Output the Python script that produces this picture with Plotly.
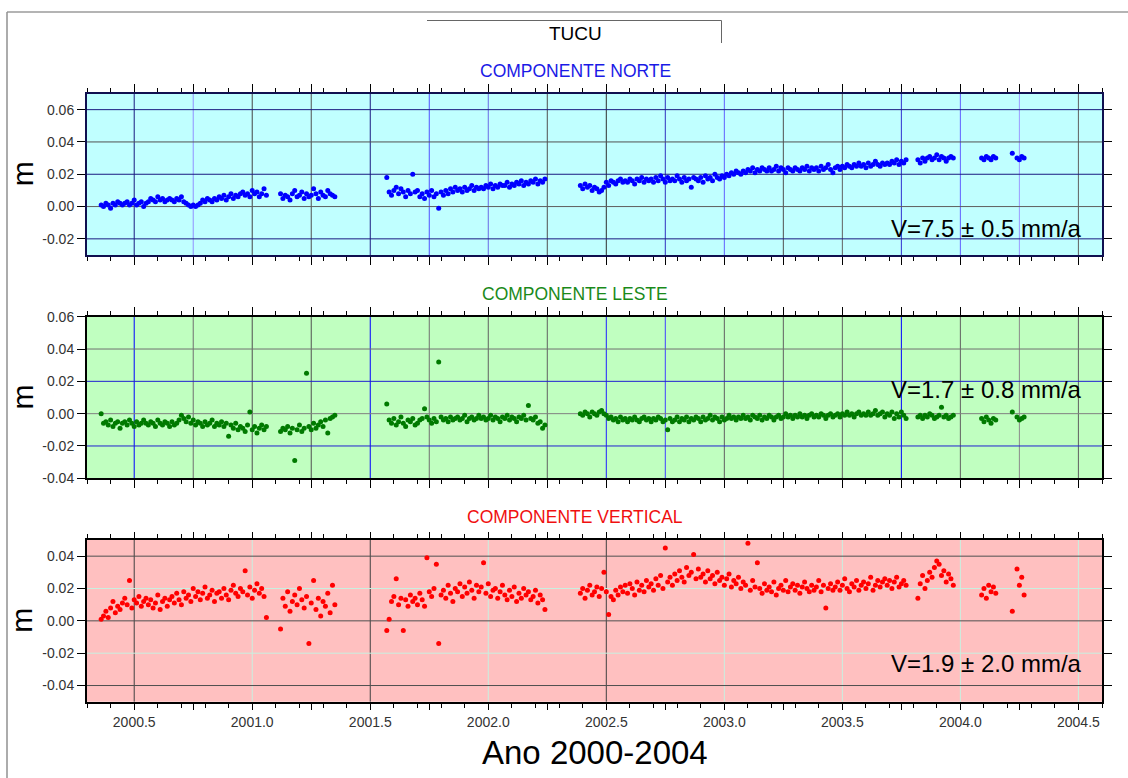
import numpy as np
import plotly.graph_objects as go

# --- GPS time series for station TUCU (values in mm, None = no solution) ---

seg_start = [2000.36, 2001.12, 2001.57, 2002.39, 2003.82, 2004.09]

north_mm = [
    [1, 0, 2, 1, -1, 2, 1, 3, 2, 1,
     2, 3, 1, 2, 4, 1, 2, 3, 0, 2,
     3, 5, 4, 3, 6, 4, 5, 3, 4, 5,
     4, 3, 5, 4, 6, 3, 2, 1, 0, 1,
     0, 1, 2, 4, 3, 5, 4, 3, 5, 4,
     6, 5, 7, 4, 6, 8, 5, 7, 6, 8,
     9, 7, 8, 6, 10, 8, 9, 6, 8, 11,
     7],
    [8, 5, 7, 6, 4, 8, 10, 6, 7, 9, 5, 8, 6, 7, 11, 8, 5, 9, 7, 6, 10, 8, 7, 6],
    [18, 9, 7, 10, 12, 8, 11, 9, 6, 10,
     8, 20, 9, 10, 6, 8, 5, 9, 7, 10,
     6, 8, -1, 9, 7, 10, 8, 11, 9, 12,
     10, 11, 9, 12, 10, 11, 13, 10, 12, 11,
     12, 11, 13, 12, 14, 11, 13, 12, 14, 13,
     13, 15, 12, 14, 13, 15, 14, 16, 13, 15,
     14, 16, 15, 17, 14, 16, 15, 17],
    [13, 11, 14, 12, 13, 10, 12, 11, 9, 10,
     12, 15, 13, 16, 15, 14, 16, 17, 15, 16,
     15, 17, 16, 14, 17, 16, 18, 15, 17, 16,
     17, 15, 18, 16, 19, 17, 15, 18, 16, 17,
     16, 19, 17, 15, 18, 16, 17, 12, 18, 17,
     16, 18, 15, 19, 17, 18, 16, 20, 18, 17,
     19, 18, 20, 19, 21, 20, 22, 21, 20, 22,
     21, 23, 22, 24, 21, 23, 22, 24, 23, 22,
     24, 22, 23, 25, 22, 24, 23, 21, 24, 23,
     22, 24, 23, 22, 24, 23, 25, 22, 24, 23,
     24, 22, 25, 23, 24, 26, 23, 21, 24, 25,
     23, 25, 24, 26, 25, 24, 26, 25, 27, 25,
     26, 24, 27, 25, 26, 28, 26, 25, 27, 26,
     27, 26, 28, 27, 29, 26, 28, 27, 29],
    [29, 27, 30, 28, 30, 31, 29, 30, 32, 29, 31, 30, 28, 30, 31, 30],
    [30, 29, 31, 30, 29, 31, 30, None, None, None, None, None, None, 33, None, 30, 29, 31, 30],
]

east_mm = [
    [0, -6, -5, -7, -4, -8, -6, -5, -9, -6,
     -5, -7, -4, -6, -8, -5, -7, -6, -4, -6,
     -7, -5, -6, -8, -4, -6, -7, -5, -6, -8,
     -5, -7, -6, -4, -1, -3, -5, -2, -6, -4,
     -7, -5, -6, -8, -5, -7, -6, -4, -8, -6,
     -7, -5, -8, -6, -14, -7, -9, -6, -10, -8,
     -9, -11, -7, 1, -10, -8, -12, -9, -7, -10,
     -8],
    [-11, -9, -10, -8, -12, -9, -29, -10, -7, -11, -9, 25, -8, -10, -6, -9, -7, -5, -8, -4, -12, -3, -2, -1],
    [6, -4, -6, -3, -7, -5, -2, -6, -8, -4,
     -5, -3, -7, -6, -4, -3, 3, -2, -4, -6,
     -3, -5, 32, -2, -4, -3, -5, -2, -4, -3,
     -2, -4, -3, -1, -5, -3, -2, -4, -3, -1,
     -3, -2, -4, -3, -1, -4, -2, -3, -5, -2,
     -3, -1, -4, -2, -3, -5, -2, -3, -1, -4,
     5, -3, -4, -2, -6, -5, -9, -7],
    [0, -1, 1, 0, -2, 1, 0, -1, 1, 2,
     0, -1, -3, -2, -4, -3, -5, -2, -4, -3,
     -5, -3, -4, -2, -4, -5, -3, -2, -4, -3,
     -5, -3, -4, -2, -3, -5, -4, -10, -3, -5,
     -4, -2, -5, -3, -4, -2, -5, -3, -4, -2,
     -3, -5, -2, -4, -3, -1, -4, -2, -3, -5,
     -2, -4, -3, -1, -3, -2, -4, -2, -3, -1,
     -3, -2, -4, -1, -2, -3, -1, -4, -2, -3,
     -1, -2, -4, -2, -1, -3, -2, 0, -2, -1,
     -3, -1, -2, 0, -2, -1, -3, -1, 0, -2,
     -1, -2, 0, -1, -3, -1, 0, -2, -1, 0,
     -2, 0, -1, 1, -1, 0, -2, 0, 1, -1,
     0, -1, 1, -1, 0, 2, -1, 0, 1, -2,
     0, -1, 1, -3, 0, -2, 1, -1, -3],
    [-2, -1, -3, -1, -2, 0, -1, -3, -2, -1, 4, -2, -1, -3, -2, -1],
    [-3, -5, -2, -4, -6, -3, -4, None, None, None, None, None, None, 1, None, -2, -4, -3, -2],
]

up_mm = [
    [1, 3, 6, 2, 8, 12, 5, 9, 7, 11,
     14, 10, 25, 8, 13, 11, 15, 9, 12, 14,
     10, 13, 8, 11, 16, 7, 12, 14, 9, 13,
     15, 11, 17, 13, 10, 18, 14, 16, 12, 20,
     15, 18, 13, 17, 21, 14, 16, 19, 12, 17,
     18, 14, 20, 16, 13, 19, 22, 17, 15, 20,
     18, 31, 16, 21, 14, 19, 23, 17, 20, 15,
     2],
    [-5, 14, 9, 18, 6, 12, 16, 10, 20, 13, 8, 15, -14, 11, 25, 7, 14, 3, 12, 9, 17, 5, 22, 10],
    [-6, 1, 12, 15, 26, 10, 14, -6, 13, 9,
     16, 12, 14, 10, 17, 13, 9, 39, 18, 15,
     20, 35, -14, 16, 19, 14, 22, 17, 12, 20,
     18, 23, 15, 21, 17, 24, 19, 14, 22, 18,
     21, 36, 17, 23, 15, 19, 20, 14, 18, 22,
     16, 13, 19, 15, 21, 12, 17, 14, 20, 16,
     18, 13, 15, 19, 11, 16, 13, 7],
    [17, 20, 14, 19, 22, 16, 18, 21, 15, 20,
     30, 18, 4, 15, 13, 19, 16, 21, 18, 22,
     17, 23, 20, 16, 24, 19, 22, 18, 25, 21,
     23, 19, 26, 22, 28, 20, 45, 24, 27, 22,
     29, 25, 31, 27, 24, 33, 28, 30, 41, 26,
     32, 27, 29, 24, 31, 26, 28, 23, 30, 25,
     27, 22, 26, 29, 21, 25, 23, 27, 20, 24,
     22, 48, 19, 25, 21, 36, 20, 17, 23, 19,
     21, 18, 24, 16, 20, 22, 19, 25, 18, 21,
     23, 19, 22, 17, 21, 24, 20, 18, 22, 19,
     21, 25, 18, 22, 8, 20, 23, 19, 21, 24,
     19, 22, 26, 20, 18, 23, 21, 25, 19, 22,
     24, 20, 23, 27, 19, 22, 25, 21, 24, 26,
     22, 25, 20, 24, 27, 21, 23, 25, 22],
    [14, 23, 28, 20, 25, 30, 27, 33, 37, 35, 28, 31, 24, 29, 26, 22],
    [16, 20, 14, 22, 18, 21, 17, None, None, None, None, None, None, 6, None, 32, 22, 27, 16],
]

north_yticks = [-0.02, 0.0, 0.02, 0.04, 0.06]
east_yticks = [-0.04, -0.02, 0.0, 0.02, 0.04, 0.06]
up_yticks = [-0.04, -0.02, 0.0, 0.02, 0.04]
x_grid = [2000.5 + 0.25 * i for i in range(17)]
x_labels = [2000.5, 2001.0, 2001.5, 2002.0, 2002.5, 2003.0, 2003.5, 2004.0, 2004.5]

W, H = 1128, 778
FONT = "Liberation Sans, Arial, Helvetica, sans-serif"


def px(x):
    return x / W


def py(y):
    return 1 - y / H


def to_series(values_by_seg):
    t, v = [], []
    for start, vals in zip(seg_start, values_by_seg):
        for i, val in enumerate(vals):
            t.append(round(start + 0.01 * i, 3))
            v.append(None if val is None else val / 1000.0)
    return t, v


def label(text, x, y, size, color="#000", **kw):
    return dict(text=text, x=px(x), y=py(y), xref="paper", yref="paper", showarrow=False,
                xanchor=kw.pop("xanchor", "center"), yanchor="middle",
                font=dict(family=FONT, size=size, color=color), **kw)


panels = [
    dict(name="COMPONENTE NORTE", data=north_mm, color="#0000ff", bg="#c0ffff",
         yr=[-0.03, 0.07], yt=north_yticks, top=93.5, bottom=255, title_col="#1a1ae6",
         border="#101050", vel="V=7.5 ± 0.5 mm/a", vel_y=229, title_y=71,
         vgrid=["#1a1a80", "#9090ff", "#454545", "#505050", "#1a1a80", "#5050ff", "#6a6ae6",
                "#505050", "#303030", "#3030c0", "#6060ff", "#505050", "#606060", "#3030d0",
                "#6060ff", "#9a9aff", "#606060"],
         hgrid={-0.02: "#1a1a80", 0.0: "#606060", 0.02: "#1a1a80", 0.04: "#505050", 0.06: "#1a1a80"}),
    dict(name="COMPONENTE LESTE", data=east_mm, color="#007a00", bg="#c0ffc0",
         yr=[-0.04, 0.06], yt=east_yticks, top=316.7, bottom=478.3, title_col="#1a8a1a",
         border="#000000", vel="V=1.7 ± 0.8 mm/a", vel_y=390, title_y=294,
         vgrid=["#0000ff", "#707070", "#505050", "#505050", "#0000ff", "#707070", "#606060",
                "#606060", "#2020ff", "#4040ff", "#606060", "#606060", "#606060", "#0000ff",
                "#606060", "#8a8a8a", "#606060"],
         hgrid={-0.02: "#2020d0", 0.0: "#808080", 0.02: "#2020d0", 0.04: "#707070"}),
    dict(name="COMPONENTE VERTICAL", data=up_mm, color="#ff0000", bg="#ffc0c0",
         yr=[-0.05, 0.05], yt=up_yticks, top=540, bottom=701.7, title_col="#f01010",
         border="#000000", vel="V=1.9 ± 2.0 mm/a", vel_y=663, title_y=517,
         vgrid=["#404040", None, "#c8f0e0", None, "#404040", None, "#c8f0e0", None, "#404040",
                None, "#c8f0e0", None, "#c8f0e0", None, "#c8f0e0", None, "#c8f0e0"],
         hgrid={-0.04: "#505050", -0.02: "#c8f0e0", 0.0: "#505050", 0.02: "#c8f0e0", 0.04: "#505050"}),
]

fig = go.Figure()
shapes = []
annotations = []
layout = {}

for k, p in enumerate(panels, start=1):
    sfx = "" if k == 1 else str(k)
    xa, ya = "x" + sfx, "y" + sfx
    t, v = to_series(p["data"])
    fig.add_trace(go.Scatter(x=t, y=v, mode="markers", xaxis=xa, yaxis=ya,
                             marker=dict(size=5, color=p["color"]), showlegend=False))

    is_bottom = k == len(panels)
    layout["xaxis" + sfx] = dict(
        domain=[px(87), px(1102)], anchor=ya, range=[2000.3, 2004.6],
        showgrid=False, zeroline=False, showline=True, linecolor=p["border"], linewidth=2,
        mirror="allticks", ticks="outside", ticklen=8 if not is_bottom else 6, tickcolor="#000",
        tickvals=x_grid,
        ticktext=[(f"{x:.1f}" if x in x_labels else "") for x in x_grid],
        showticklabels=is_bottom,
        tickfont=dict(family=FONT, size=14, color="#333"),
        minor=dict(dtick=0.1, tick0=2000.0, ticks="outside", ticklen=4, tickcolor="#000", showgrid=False),
    )
    layout["yaxis" + sfx] = dict(
        domain=[py(p["bottom"]), py(p["top"])], anchor=xa, range=p["yr"],
        showgrid=False, zeroline=False, showline=True, linecolor=p["border"], linewidth=2,
        mirror="allticks", ticks="outside", ticklen=8, tickcolor="#000",
        tickvals=p["yt"], ticktext=[f"{y:.2f}" for y in p["yt"]],
        tickfont=dict(family=FONT, size=14, color="#333"),
    )

    # panel background
    shapes.append(dict(type="rect", xref=xa + " domain", yref=ya + " domain", x0=0, x1=1, y0=0, y1=1,
                       fillcolor=p["bg"], line=dict(width=0), layer="below"))
    # grid lines, each with its own colour as in the original plot
    for gx, gc in zip(x_grid, p["vgrid"]):
        if gc:
            shapes.append(dict(type="line", xref=xa, yref=ya + " domain", x0=gx, x1=gx, y0=0, y1=1,
                               line=dict(color=gc, width=1), layer="below"))
    for gy, gc in p["hgrid"].items():
        shapes.append(dict(type="line", xref=xa + " domain", yref=ya, x0=0, x1=1, y0=gy, y1=gy,
                           line=dict(color=gc, width=1), layer="below"))

    annotations.append(label(p["name"], 575, p["title_y"], 17.5, p["title_col"]))
    annotations.append(label("m", 22, (p["top"] + p["bottom"]) / 2, 30, textangle=-90))
    annotations.append(label(p["vel"], 1084, p["vel_y"], 24, xanchor="right"))

annotations.append(label("TUCU", 575, 33, 19))
annotations.append(label("Ano 2000-2004", 595, 752, 33))

# outer frame and title box
shapes.append(dict(type="line", xref="paper", yref="paper", x0=px(7), x1=1, y0=py(12), y1=py(12),
                   line=dict(color="#b4b4b4", width=2)))
shapes.append(dict(type="line", xref="paper", yref="paper", x0=px(7), x1=px(7), y0=py(12), y1=0,
                   line=dict(color="#909090", width=1.5)))
shapes.append(dict(type="line", xref="paper", yref="paper", x0=px(427), x1=px(721.5), y0=py(20.5),
                   y1=py(20.5), line=dict(color="#666", width=1)))
shapes.append(dict(type="line", xref="paper", yref="paper", x0=px(721.5), x1=px(721.5), y0=py(20.5),
                   y1=py(43), line=dict(color="#666", width=1)))

fig.update_layout(
    width=W, height=H,
    margin=dict(l=0, r=0, t=0, b=0, autoexpand=False),
    paper_bgcolor="white", plot_bgcolor="white",
    shapes=shapes, annotations=annotations,
    **layout,
)

fig.write_html("out.html", config={"displayModeBar": False},
               post_script="document.body.style.margin='0';document.body.style.overflow='hidden';")
